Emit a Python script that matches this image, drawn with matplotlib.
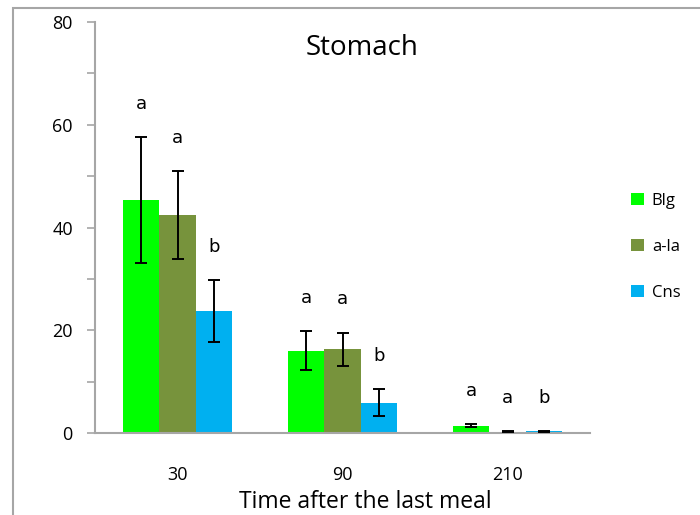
import numpy as np
import matplotlib
matplotlib.use('Agg')
import matplotlib.pyplot as plt
from matplotlib.patches import Rectangle

plt.rcParams['font.family'] = ['Open Sans', 'DejaVu Sans']

# data
times = ['30', '90', '210']
series = ['Blg', 'a-la', 'Cns']
blg = [45.3, 16.0, 1.4]
blg_err = [12.3, 3.8, 0.3]
ala = [42.4, 16.3, 0.2]
ala_err = [8.5, 3.2, 0.1]
cns = [23.7, 5.9, 0.3]
cns_err = [6.0, 2.6, 0.1]
blg_letters = ['a', 'a', 'a']
ala_letters = ['a', 'a', 'a']
cns_letters = ['b', 'b', 'b']

colors = ['#00FF00', '#77933C', '#00B0F0']
axis_grey = '#A6A6A6'

fig = plt.figure(figsize=(7, 5.15), dpi=100)
ax = fig.add_axes([0.1357, 0.1592, 0.7073, 0.7981])

x = np.arange(len(times))
w = 0.221
vals = [blg, ala, cns]
errs = [blg_err, ala_err, cns_err]
letters = [blg_letters, ala_letters, cns_letters]

for i in range(3):
    pos = x + (i - 1) * w
    ax.bar(pos, vals[i], w, color=colors[i], label=series[i], zorder=2)
    ax.errorbar(pos, vals[i], yerr=errs[i], fmt='none', ecolor='black',
                elinewidth=1.4, capsize=4.5, capthick=1.4, zorder=3)
    for p, v, e, t in zip(pos, vals[i], errs[i], letters[i]):
        ax.annotate(t, (p, v + e), xytext=(0, 24), textcoords='offset points',
                    ha='center', va='center', fontsize=13, family='DejaVu Sans')

ax.set_xlim(-0.5, 2.5)
ax.set_ylim(0, 80)
ax.set_xticks(x)
ax.set_xticklabels(times)
ax.set_yticks(np.arange(0, 81, 20))
ax.set_yticks(np.arange(0, 81, 10), minor=True)

for s in ['top', 'right']:
    ax.spines[s].set_visible(False)
for s in ['left', 'bottom']:
    ax.spines[s].set_color(axis_grey)
    ax.spines[s].set_linewidth(1.5)

ax.tick_params(axis='y', which='both', direction='out', length=6, width=1.2,
               color=axis_grey, labelsize=13, pad=10)
ax.tick_params(axis='x', length=0, labelsize=13, pad=24)

ax.text(1.12, 75, 'Stomach', ha='center', va='center', fontsize=20)
ax.set_xlabel('Time after the last meal', fontsize=16.5)
ax.xaxis.set_label_coords(0.545, -0.138)

fig.legend(loc='center left', bbox_to_anchor=(0.88, 0.52), frameon=False,
           fontsize=12, labelspacing=1.8, handlelength=0.75, handleheight=0.75,
           handletextpad=0.5)

fig.patches.append(Rectangle((13 / 700, -0.1), 1.2, 1 - 8 / 515 + 0.1,
                             transform=fig.transFigure, fill=False,
                             edgecolor=axis_grey, linewidth=1.5))

fig.savefig('out.png', dpi=100)
